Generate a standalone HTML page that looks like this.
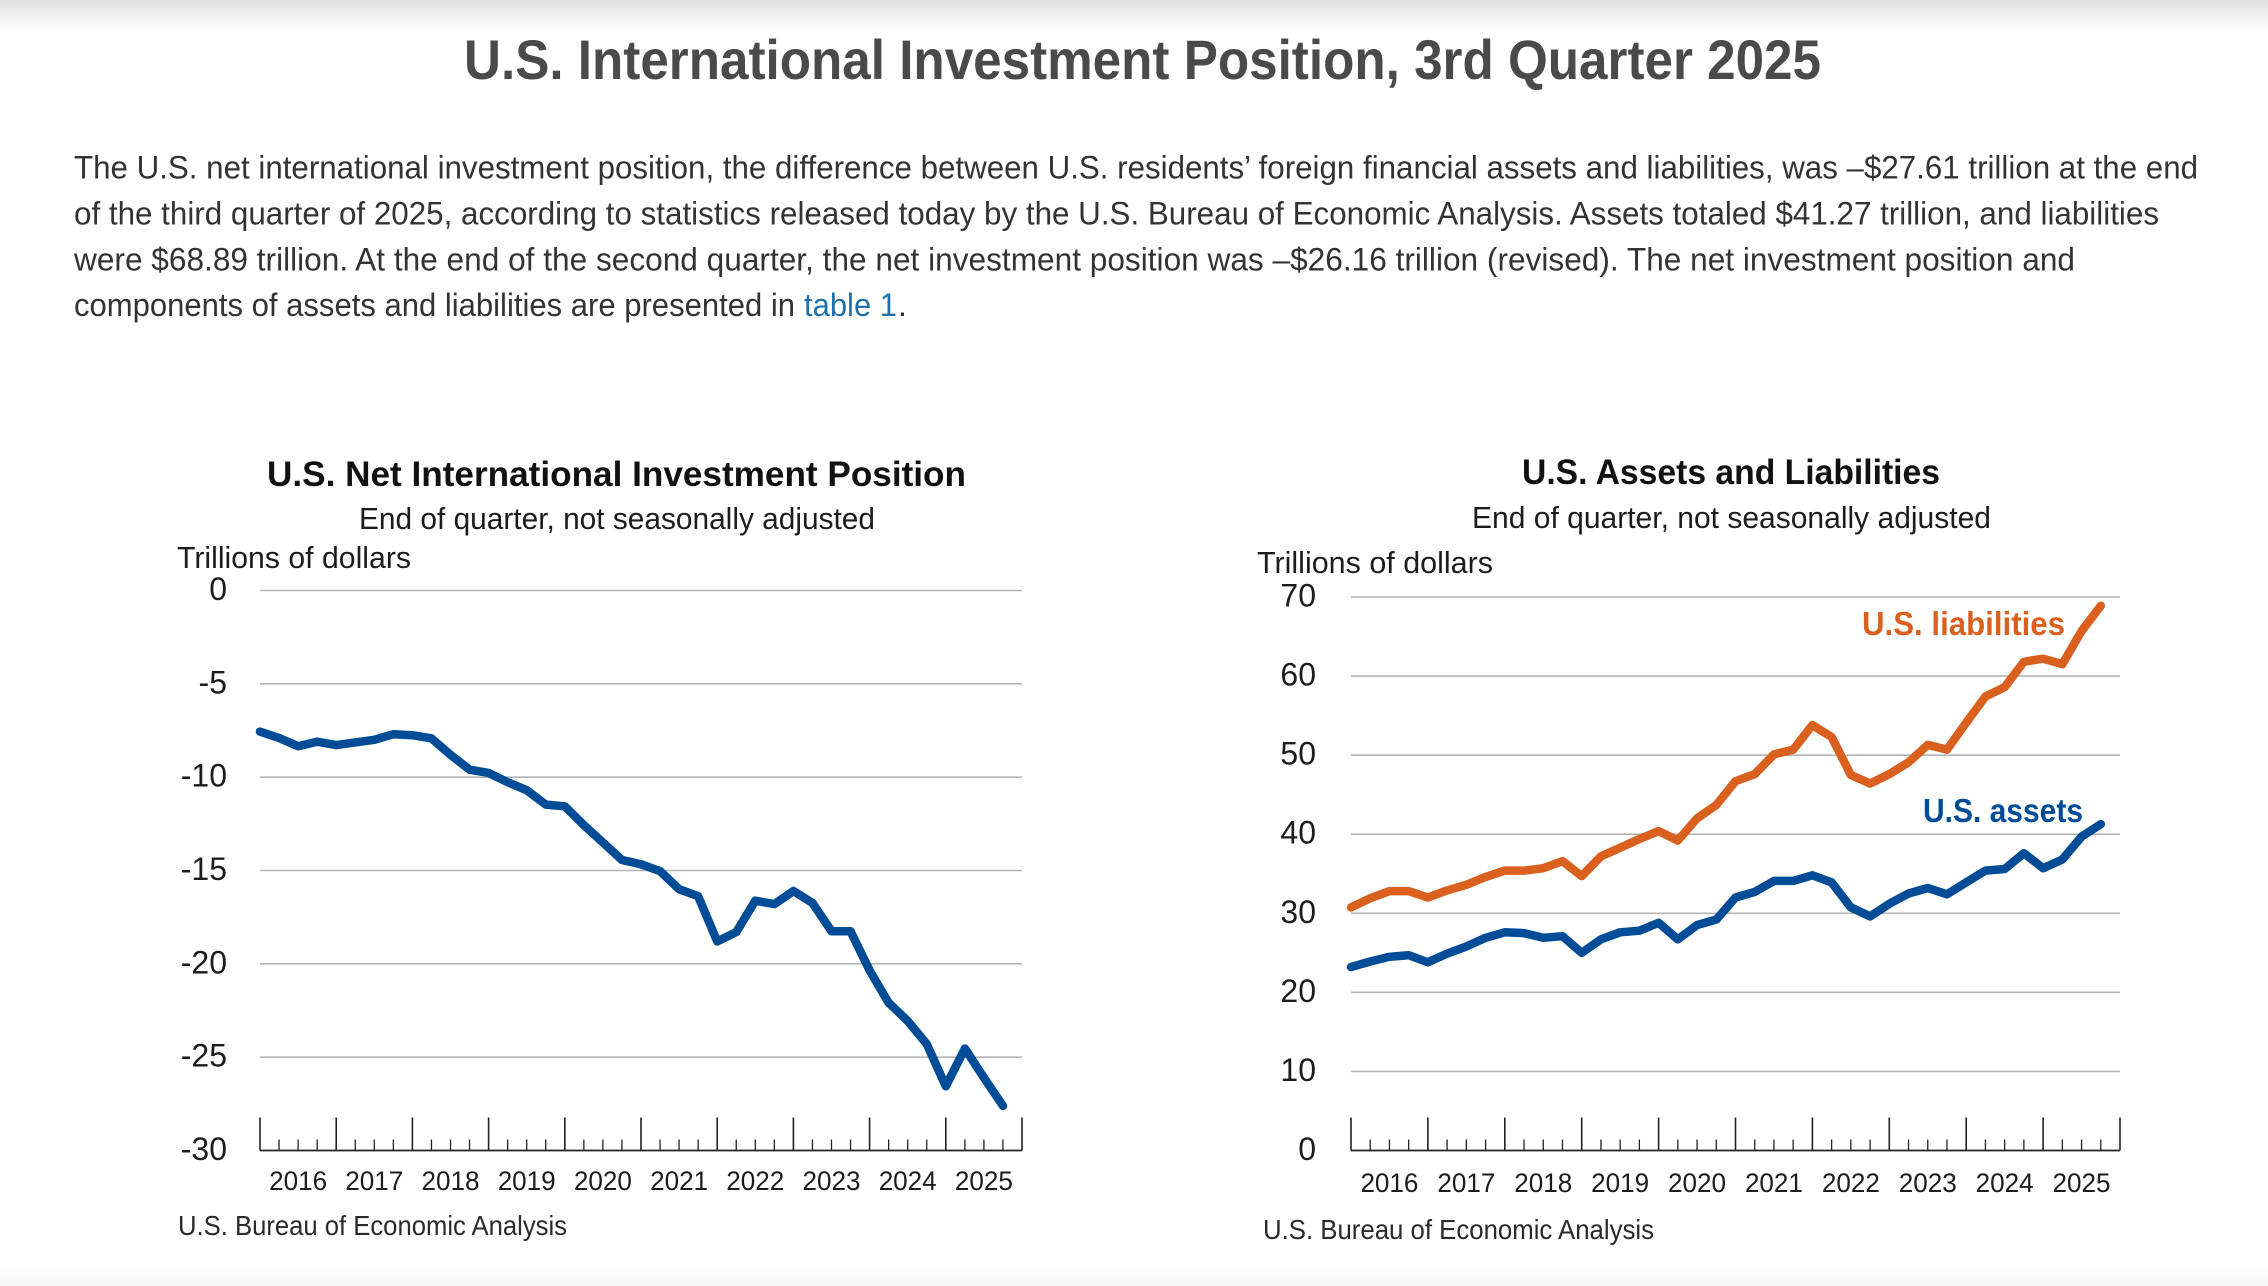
<!DOCTYPE html>
<html lang="en">
<head>
<meta charset="utf-8">
<title>U.S. International Investment Position, 3rd Quarter 2025</title>
<style>
html,body{margin:0;padding:0;background:#fff;width:2268px;height:1286px;overflow:hidden}
svg{display:block}
text{font-family:"Liberation Sans",sans-serif;fill:#1c1c1c}
.para{font-size:32px;fill:#333}
.ct{font-size:35px;font-weight:bold;fill:#111}
.cs{font-size:31px}
.tick{font-size:32px}
.yr{font-size:27px}
.src{font-size:28px;fill:#2a2a2a}
</style>
</head>
<body>
<svg id="page" xmlns="http://www.w3.org/2000/svg" width="2268" height="1286" viewBox="0 0 2268 1286">
  <defs>
    <linearGradient id="topShade" x1="0" y1="0" x2="0" y2="1"><stop offset="0" stop-color="#dfdfdf"/><stop offset="1" stop-color="#ffffff"/></linearGradient>
    <linearGradient id="bottomShade" x1="0" y1="0" x2="0" y2="1"><stop offset="0" stop-color="#ffffff"/><stop offset="1" stop-color="#f7f7f7"/></linearGradient>
  </defs>
  <rect x="0" y="0" width="2268" height="30" fill="url(#topShade)"/>
  <rect x="0" y="1262" width="2268" height="24" fill="url(#bottomShade)"/>

  <text x="464" y="79" font-size="56" font-weight="bold" style="fill:#4a4a4a" textLength="1357" lengthAdjust="spacingAndGlyphs">U.S. International Investment Position, 3rd Quarter 2025</text>

  <g>
    <text class="para" x="74" y="178.5" textLength="2124" lengthAdjust="spacingAndGlyphs">The U.S. net international investment position, the difference between U.S. residents’ foreign financial assets and liabilities, was –$27.61 trillion at the end</text>
    <text class="para" x="74" y="224.5" textLength="2085" lengthAdjust="spacingAndGlyphs">of the third quarter of 2025, according to statistics released today by the U.S. Bureau of Economic Analysis. Assets totaled $41.27 trillion, and liabilities</text>
    <text class="para" x="74" y="270.5" textLength="2001" lengthAdjust="spacingAndGlyphs">were $68.89 trillion. At the end of the second quarter, the net investment position was –$26.16 trillion (revised). The net investment position and</text>
    <text class="para" x="74" y="316" textLength="721" lengthAdjust="spacingAndGlyphs">components of assets and liabilities are presented in</text>
    <text class="para" x="804" y="316" style="fill:#1f6fa8" textLength="93" lengthAdjust="spacingAndGlyphs">table 1</text>
    <text class="para" x="898" y="316">.</text>
  </g>

  <g id="chartLeft">
    <text class="ct" x="267" y="486" textLength="699" lengthAdjust="spacingAndGlyphs">U.S. Net International Investment Position</text>
    <text class="cs" x="359" y="529" textLength="516" lengthAdjust="spacingAndGlyphs">End of quarter, not seasonally adjusted</text>
    <text class="cs" x="177" y="568" textLength="234" lengthAdjust="spacingAndGlyphs">Trillions of dollars</text>
    <text class="src" x="178" y="1235" textLength="389" lengthAdjust="spacingAndGlyphs">U.S. Bureau of Economic Analysis</text>
  </g>

  <g id="chartRight">
    <text class="ct" x="1522" y="484" textLength="418" lengthAdjust="spacingAndGlyphs">U.S. Assets and Liabilities</text>
    <text class="cs" x="1472" y="528" textLength="519" lengthAdjust="spacingAndGlyphs">End of quarter, not seasonally adjusted</text>
    <text class="cs" x="1257" y="573" textLength="236" lengthAdjust="spacingAndGlyphs">Trillions of dollars</text>
    <text class="src" x="1263" y="1239" textLength="391" lengthAdjust="spacingAndGlyphs">U.S. Bureau of Economic Analysis</text>
  </g>
</svg>

<script>
const yearLabels = ["2016","2017","2018","2019","2020","2021","2022","2023","2024","2025"];
const netTicks = [0,-5,-10,-15,-20,-25,-30];
const balanceTicks = [70,60,50,40,30,20,10,0];
const netPosition = [-7.56,-7.9,-8.34,-8.1,-8.28,-8.14,-8.0,-7.7,-7.75,-7.92,-8.8,-9.6,-9.77,-10.27,-10.7,-11.47,-11.56,-12.57,-13.5,-14.44,-14.67,-15.03,-16.0,-16.37,-18.8,-18.3,-16.62,-16.8,-16.1,-16.74,-18.25,-18.25,-20.35,-22.08,-23.06,-24.3,-26.56,-24.54,-26.1,-27.61];
const usLiabilities = [30.75,31.9,32.8,32.8,32.0,32.9,33.6,34.6,35.4,35.4,35.7,36.6,34.7,37.2,38.3,39.4,40.4,39.2,42.0,43.7,46.7,47.6,50.1,50.7,53.8,52.3,47.5,46.4,47.6,49.1,51.3,50.7,54.1,57.4,58.6,61.8,62.2,61.5,65.7,68.89];
const usAssets = [23.2,23.9,24.5,24.7,23.8,24.9,25.8,26.9,27.6,27.5,26.9,27.1,25.0,26.7,27.6,27.8,28.8,26.7,28.5,29.2,32.0,32.7,34.1,34.1,34.8,33.9,30.75,29.6,31.2,32.5,33.2,32.4,33.9,35.4,35.6,37.6,35.7,36.8,39.7,41.27];

const SVG_NS = "http://www.w3.org/2000/svg";
const QUARTERS_PER_YEAR = 4;

function make(parent, tag, attrs, content) {
  const el = document.createElementNS(SVG_NS, tag);
  for (const k in attrs) el.setAttribute(k, attrs[k]);
  if (content !== undefined) el.textContent = content;
  parent.appendChild(el);
  return el;
}

function drawAxes(root, prefix, cfg, ticks) {
  const slots = yearLabels.length * QUARTERS_PER_YEAR;
  const xScale = i => cfg.x0 + (cfg.x1 - cfg.x0) * i / slots;
  const yScale = v => cfg.yTop + (cfg.yMax - v) / (cfg.yMax - cfg.yMin) * (cfg.yBottom - cfg.yTop);

  ticks.forEach(t => {
    const y = yScale(t);
    if (t !== cfg.yMin) {
      const grid = make(root, "line", {x1: cfg.x0, x2: cfg.x1, y1: y, y2: y, stroke: "#b4b4b4", "stroke-width": 1.6});
      
      
    }
    const label = make(root, "text", {class: "tick", x: cfg.labelRight, y: y + 9.5, "text-anchor": "end"}, String(t));
    
    
  });

  const axis = make(root, "line", {x1: cfg.x0, x2: cfg.x1, y1: cfg.yBottom, y2: cfg.yBottom, stroke: "#222", "stroke-width": 1.8});
  
  

  for (let i = 0; i <= slots; i++) {
    const major = i % QUARTERS_PER_YEAR === 0;
    const x = xScale(i);
    const tick = make(root, "line", {x1: x, x2: x, y1: cfg.yBottom - (major ? 33 : 11), y2: cfg.yBottom, stroke: "#222", "stroke-width": major ? 1.6 : 1.3});
    
    
  }

  yearLabels.forEach((yr, n) => {
    const cx = xScale((n + 0.5) * QUARTERS_PER_YEAR);
    const label = make(root, "text", {class: "yr", x: cx, y: cfg.yearBaseline, "text-anchor": "middle", textLength: 58, lengthAdjust: "spacingAndGlyphs"}, yr);
    
    
  });

  return {xScale, yScale};
}

function drawLine(root, scales, values, color) {
  const pts = values.map((v, i) => scales.xScale(i).toFixed(1) + "," + scales.yScale(v).toFixed(1)).join(" ");
  return make(root, "polyline", {points: pts, fill: "none", stroke: color, "stroke-width": 8.5, "stroke-linejoin": "round", "stroke-linecap": "round"});
}

const leftRoot = document.getElementById("chartLeft");
const leftCfg = {x0: 260, x1: 1022, yTop: 590.5, yBottom: 1150.5, yMax: 0, yMin: -30, labelRight: 227, yearBaseline: 1190};
const leftScales = drawAxes(leftRoot, "net-position", leftCfg, netTicks);
const netLine = drawLine(leftRoot, leftScales, netPosition, "#004c97");



const rightRoot = document.getElementById("chartRight");
const rightCfg = {x0: 1351, x1: 2120, yTop: 597, yBottom: 1150.5, yMax: 70, yMin: 0, labelRight: 1316, yearBaseline: 1192};
const rightScales = drawAxes(rightRoot, "assets-liabilities", rightCfg, balanceTicks);
const liabilitiesLine = drawLine(rightRoot, rightScales, usLiabilities, "#d9601f");


const assetsLine = drawLine(rightRoot, rightScales, usAssets, "#004c97");



const liabLabel = make(rightRoot, "text", {x: 1862, y: 635, "font-size": 33, "font-weight": "bold", style: "fill:#d9601f", textLength: 203, lengthAdjust: "spacingAndGlyphs"}, "U.S. liabilities");


const assetLabel = make(rightRoot, "text", {x: 1923, y: 822, "font-size": 33, "font-weight": "bold", style: "fill:#004c97", textLength: 160, lengthAdjust: "spacingAndGlyphs"}, "U.S. assets");


</script>
</body>
</html>
